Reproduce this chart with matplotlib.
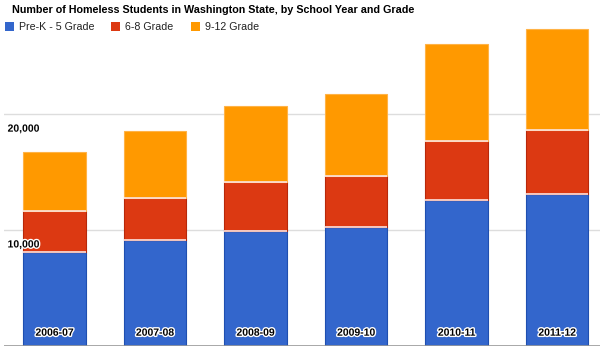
import matplotlib
matplotlib.use("Agg")
import matplotlib.pyplot as plt
import matplotlib.patheffects as pe
from matplotlib.patches import Rectangle
import numpy as np

plt.rcParams['font.family'] = ['Liberation Sans', 'DejaVu Sans']

# data
years = ["2006-07", "2007-08", "2008-09", "2009-10", "2010-11", "2011-12"]
prek_5 = [8140, 9130, 9960, 10300, 12590, 13100]
grade_6_8 = [3520, 3650, 4200, 4400, 5110, 5550]
grade_9_12 = [5120, 5830, 6560, 7090, 8340, 8720]

series = ["Pre-K - 5 Grade", "6-8 Grade", "9-12 Grade"]
colors = ["#3366CC", "#DC3912", "#FF9900"]
edges = ["#1F4FB0", "#B8280A", "#FFB347"]
yticks = [10000, 20000]

W, H = 600, 352
fig = plt.figure(figsize=(W / 100, H / 100), dpi=100)
# axes spans x 4..600 px, y 0..346 px (from top)
ax = fig.add_axes([4 / W, 6 / H, 596 / W, 346 / H])

x = np.arange(len(years))
width = 0.62
bottom = np.zeros(len(years))
for vals, c, ec in zip([prek_5, grade_6_8, grade_9_12], colors, edges):
    ax.bar(x, vals, width, bottom=bottom, color=c, edgecolor=ec, linewidth=0.8, zorder=3)
    if bottom.any():
        # thin light gap between stacked segments
        ax.hlines(bottom, x - width / 2, x + width / 2, color="#fbe3e0", lw=1.2, zorder=4)
    bottom += np.array(vals)

ax.set_xlim(-0.502, 5.428)
ax.set_ylim(0, 29880)

for t in yticks:
    ax.axhline(t, color="#dddddd", lw=1, zorder=1)
    ax.text(0.006, t - 800, f"{t:,}", transform=ax.get_yaxis_transform(),
            ha="left", va="top", fontsize=7.5, fontweight="bold", zorder=5,
            path_effects=[pe.withStroke(linewidth=2, foreground="white")])
ax.axhline(0, color="#999999", lw=1.2, zorder=4)

for i, lab in enumerate(years):
    ax.text(i, 1150, lab, ha="center", va="center", fontsize=7.5, fontweight="bold", zorder=6,
            path_effects=[pe.withStroke(linewidth=2, foreground="white")])

for s in ax.spines.values():
    s.set_visible(False)
ax.set_xticks([])
ax.set_yticks([])

# title and legend
fig.text(12 / W, 1 - 10 / H, "Number of Homeless Students in Washington State, by School Year and Grade",
         ha="left", va="center", fontsize=7.75, fontweight="bold")
leg_x = [5, 111, 191]
for lx, name, c in zip(leg_x, series, colors):
    fig.patches.append(Rectangle((lx / W, 1 - 31 / H), 8.5 / W, 9 / H, transform=fig.transFigure,
                                 facecolor=c, edgecolor="none"))
    fig.text((lx + 14) / W, 1 - 26.5 / H, name, ha="left", va="center", fontsize=7.7, color="#222222")

fig.savefig("out.png", dpi=100)
